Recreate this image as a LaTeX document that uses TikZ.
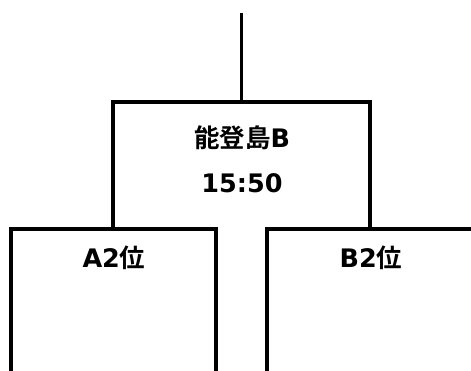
\documentclass[tikz,border=0pt]{standalone}
\usepackage{fontspec}
\setmainfont{DejaVu Sans}
\newfontfamily\cjk{Noto Sans CJK JP}[BoldFont={* Bold}]

\begin{document}
\begin{tikzpicture}[x=1pt, y=1pt, line width=3.3pt,
    team/.style = {font=\fontsize{25.5}{30}\selectfont\bfseries, inner sep=0pt}]
    \useasboundingbox (0,0) rectangle (471,371);
    % coordinates of the bracket
    \coordinate (top) at (241.5,358);
    \coordinate (join) at (241.5,269);
    \coordinate (ltop) at (113,269);
    \coordinate (rtop) at (370,269);
    \coordinate (lfoot) at (113,142);
    \coordinate (rfoot) at (370,142);
    \coordinate (abl) at (11,0);
    \coordinate (abr) at (216,0);
    \coordinate (bbl) at (267,0);
    \coordinate (bbr) at (471,142);
    % labels
    \node[team] (match) at (242,233) {{\cjk 能登島}B};
    \node[team] (time) at (242,188) {15:50};
    \node[team] (a2) at (114,113) {A2{\cjk 位}};
    \node[team] (b2) at (371,113) {B2{\cjk 位}};
    % lines
    \draw (top) -- (join);
    \draw (lfoot) -- (ltop) -- (rtop) -- (rfoot);
    \draw (abl) |- (lfoot) -| (abr);
    \draw (bbl) |- (bbr);
\end{tikzpicture}
\end{document}
